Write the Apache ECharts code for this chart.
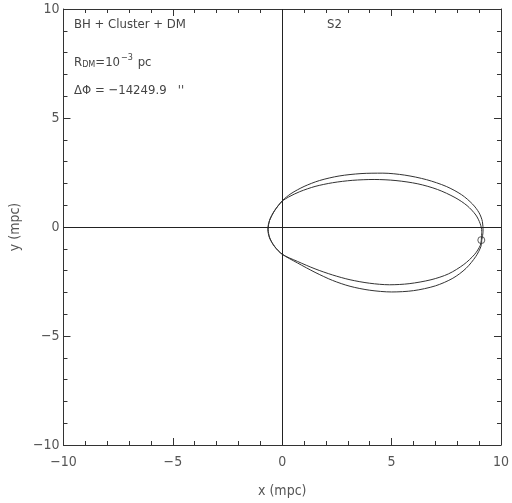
<!DOCTYPE html>
<html>
<head>
<meta charset="utf-8">
<script src="https://cdn.jsdelivr.net/npm/echarts@6/dist/echarts.min.js"></script>
<style>
  html, body { margin: 0; padding: 0; background: #fff; }
  #main { width: 512px; height: 503px; }
</style>
</head>
<body>
<div id="main"></div>
<script>
// 轴范围
var xRange = [-10, 10];
var yRange = [-10, 10];
// 外圈轨道 (mpc)
var orbitOuter = [
  [9.12, -0.6], [9.18, -0.2], [9.15, 0.25], [9.0, 0.65], [8.7, 1.05], [8.2, 1.48],
  [7.5, 1.86], [6.6, 2.17], [5.6, 2.38], [4.6, 2.47], [3.6, 2.45], [2.6, 2.34],
  [1.7, 2.13], [1.0, 1.86], [0.4, 1.53], [0.0, 1.2], [-0.35, 0.75], [-0.58, 0.3],
  [-0.66, -0.1], [-0.58, -0.5], [-0.35, -0.9], [0.0, -1.25], [0.7, -1.65],
  [1.5, -2.08], [2.3, -2.45], [3.1, -2.72], [4.0, -2.9], [5.0, -2.98], [6.0, -2.92],
  [7.0, -2.7], [7.8, -2.35], [8.4, -1.9], [8.85, -1.35], [9.08, -0.9], [9.12, -0.6]
];
// 内圈轨道
var orbitInner = [
  [9.1, -0.6], [9.12, -0.2], [9.05, 0.15], [8.85, 0.55], [8.45, 0.98], [7.9, 1.35],
  [7.1, 1.72], [6.2, 1.98], [5.2, 2.13], [4.2, 2.18], [3.2, 2.14], [2.3, 2.03],
  [1.5, 1.86], [0.8, 1.62], [0.3, 1.38], [0.0, 1.18], [-0.35, 0.75], [-0.58, 0.3],
  [-0.64, -0.1], [-0.57, -0.5], [-0.34, -0.9], [0.0, -1.25], [0.7, -1.58],
  [1.5, -1.92], [2.3, -2.2], [3.1, -2.42], [4.0, -2.58], [4.9, -2.65], [5.8, -2.6],
  [6.8, -2.42], [7.6, -2.15], [8.3, -1.72], [8.8, -1.25], [9.05, -0.85], [9.1, -0.6]
];
// 当前位置
var starPos = [[9.1, -0.6]];

(function () {
  var font = '"DejaVu Sans Condensed", "Liberation Sans Narrow", sans-serif';
  var gray = '#555';
  var lineColor = '#333';
  var fmt = function (v) { return String(v).replace('-', '\u2212'); };

  function axisBase(show) {
    return {
      type: 'value',
      interval: 5,
      minorTick: { show: true, splitNumber: 5, length: 4, lineStyle: { color: lineColor } },
      axisTick: { show: true, inside: true, length: 7, lineStyle: { color: lineColor } },
      axisLine: { show: true, onZero: false, lineStyle: { color: lineColor, width: 1 } },
      splitLine: { show: false },
      axisLabel: {
        show: show, color: gray, fontFamily: font, fontSize: 14,
        formatter: fmt
      }
    };
  }

  var xBottom = axisBase(true);
  xBottom.min = xRange[0]; xBottom.max = xRange[1]; xBottom.position = 'bottom';
  xBottom.axisLabel.margin = 10;
  xBottom.name = 'x (mpc)'; xBottom.nameLocation = 'middle'; xBottom.nameGap = 39;
  xBottom.nameTextStyle = { color: gray, fontFamily: font, fontSize: 14 };
  var xTop = axisBase(false);
  xTop.min = xRange[0]; xTop.max = xRange[1]; xTop.position = 'top';

  var yLeft = axisBase(true);
  yLeft.min = yRange[0]; yLeft.max = yRange[1]; yLeft.position = 'left';
  yLeft.axisLabel.margin = 4;
  yLeft.name = 'y (mpc)'; yLeft.nameLocation = 'middle'; yLeft.nameGap = 32;
  yLeft.nameTextStyle = { color: gray, fontFamily: font, fontSize: 14 };
  var yRight = axisBase(false);
  yRight.min = yRange[0]; yRight.max = yRange[1]; yRight.position = 'right';

  var textStyle = { fill: '#444', fontFamily: font, fontSize: 13 };

  var myChart = echarts.init(document.querySelector('#main'));
  var option = {
    animation: false,
    backgroundColor: '#fff',
    grid: { left: 63, right: 9, top: 9, bottom: 56 },
    xAxis: [xBottom, xTop],
    yAxis: [yLeft, yRight],
    graphic: [
      { type: 'text', left: 74, top: 18, style: Object.assign({ text: 'BH + Cluster + DM' }, textStyle) },
      { type: 'text', left: 327, top: 18, style: Object.assign({ text: 'S2' }, textStyle) },
      {
        type: 'text', left: 74, top: 53,
        style: {
          text: '{a|R}{s|DM}{a|=10}{p|\u22123}{a| pc}',
          rich: {
            a: { fill: '#444', fontFamily: font, fontSize: 13, lineHeight: 18, verticalAlign: 'bottom' },
            s: { fill: '#444', fontFamily: font, fontSize: 9, verticalAlign: 'bottom', padding: [0, 0, 0, 0] },
            p: { fill: '#444', fontFamily: font, fontSize: 9, verticalAlign: 'bottom', padding: [0, 1, 7, 1] }
          }
        }
      },
      { type: 'text', left: 74, top: 84, style: Object.assign({ text: '\u0394\u03a6 = \u221214249.9   \'\'' }, textStyle) }
    ],
    series: [
      {
        type: 'line',
        data: orbitOuter,
        showSymbol: false,
        smooth: 0.3,
        lineStyle: { color: lineColor, width: 1 },
        markLine: {
          silent: true,
          symbol: 'none',
          label: { show: false },
          lineStyle: { color: '#222', width: 1, type: 'solid' },
          data: [{ xAxis: 0 }, { yAxis: 0 }]
        }
      },
      {
        type: 'line',
        data: orbitInner,
        showSymbol: false,
        smooth: 0.3,
        lineStyle: { color: lineColor, width: 1 }
      },
      {
        type: 'scatter',
        data: starPos,
        symbol: 'circle',
        symbolSize: 7,
        itemStyle: { color: '#fff', borderColor: lineColor, borderWidth: 1 }
      }
    ]
  };
  myChart.setOption(option);
  window.addEventListener('resize', function () {
    myChart.resize();
  });
})();
</script>
</body>
</html>
